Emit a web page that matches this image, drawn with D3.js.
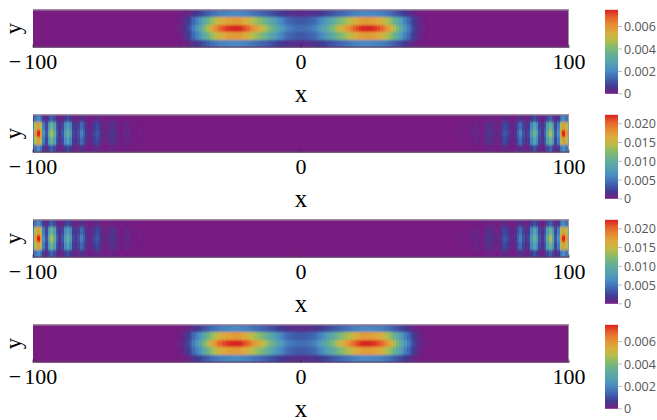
<!DOCTYPE html>
<html>
<head>
<meta charset="utf-8">
<script src="https://cdn.jsdelivr.net/npm/d3@7"></script>
<style>
  html, body { margin: 0; padding: 0; background: #fff; }
  svg { display: block; }
</style>
</head>
<body>
<svg id="chart" width="657" height="420"></svg>
<script>
// Grid nodes along x (unit spacing) and the five rows across y
const xNodes = d3.range(-100, 101);
const rowWeights = [0.27, 0.78, 1, 0.78, 0.27];

// Density along the centre row: two packets near x = ±25
const densityA = [
  0,0,0,0,0,0,0,0,0,0, 0,0,0,0,0,0,0,0,0,0, 0,0,0,0,0,0,0,0,0,0,
  0,0,0,0,0,0,0,0,0,0, 0,0,0,0,0,0,0,0,0,0, 0,0,0,
  .00004,.00009,.00019,.00034,.00056,.0009,.00135,.0018,.00233,.00285,
  .00338,.00398,.00458,.00518,.0057,.00615,.00653,.00683,.00705,.0072,
  .00735,.00743,.0075,.0075,.00743,.00728,.00705,.00683,.00653,.00615,
  .00585,.00555,.00525,.00495,.0045,.00413,.00375,.00338,.003,.0027,
  .0024,.0021,.00188,.00173,.00165,.00158,.0015,
  .0015,
  .0015,.00158,.00165,.00173,.00188,.0021,.0024,.0027,.003,.00338,
  .00375,.00413,.0045,.00495,.00525,.00555,.00585,.00615,.00653,.00683,
  .00705,.00728,.00743,.0075,.0075,.00743,.00735,.0072,.00705,.00683,
  .00653,.00615,.0057,.00518,.00458,.00398,.00338,.00285,.00233,.0018,
  .00135,.0009,.00056,.00034,.00019,.00009,.00004,
  0,0,0,0,0,0,0,0,0,0, 0,0,0,0,0,0,0,0,0,0, 0,0,0,0,0,0,0,0,0,0,
  0,0,0,0,0,0,0,0,0,0, 0,0,0,0,0,0,0,0,0,0, 0,0,0
];

// Density along the centre row: fringes piled up against both walls
const densityB = [
  .00672,.01792,.0224,.01792,.00672,.00336,.00941,.01389,.01008,.00403,
  .00179,.00336,.00784,.01075,.00739,.00269,.00112,.00314,.0056,.00403,
  .00157,.00067,.00134,.00269,.00336,.00224,.0009,.00045,.0009,.00157,
  .00179,.00112,.00045,.00022,.00056,.00078,.00056,.00022,.00011,.00022,
  .00027,.00018,.00007,
  0,0,0,0,0,0,0,0,0,0, 0,0,0,0,0,0,0,0,0,0, 0,0,0,0,0,0,0,0,0,0,
  0,0,0,0,0,0,0,0,0,0, 0,0,0,0,0,0,0,0,0,0, 0,0,0,0,0,0,0,0,0,0,
  0,0,0,0,0,0,0,0,0,0, 0,0,0,0,0,0,0,0,0,0, 0,0,0,0,0,0,0,0,0,0,
  0,0,0,0,0,0,0,0,0,0, 0,0,0,0,0,0,0,0,0,0, 0,0,0,0,0,
  .00007,.00018,.00027,
  .00022,.00011,.00022,.00056,.00078,.00056,.00022,.00045,.00112,.00179,
  .00157,.0009,.00045,.0009,.00224,.00336,.00269,.00134,.00067,.00157,
  .00403,.0056,.00314,.00112,.00269,.00739,.01075,.00784,.00336,.00179,
  .00403,.01008,.01389,.00941,.00336,.00672,.01792,.0224,.01792,.00672
];

const densityC = densityB;
const densityD = densityA;

const ticksA = [0, 0.002, 0.004, 0.006];
const ticksB = [0, 0.005, 0.010, 0.015, 0.020];
const xTicks = [-100, 0, 100];

// Rainbow colour stops, low to high
const rainbow = ["#781C81","#413B93","#4065B1","#488BC2","#55A1B1","#63AD99",
                 "#7FB972","#B5BD4C","#D9AD3C","#E68E34","#E6642C","#D92120"];

const panels = [
  { values: densityA, ticks: ticksA },
  { values: densityB, ticks: ticksB },
  { values: densityC, ticks: ticksB },
  { values: densityD, ticks: ticksA }
];

const svg = d3.select("#chart");
const defs = svg.append("defs");

const plotLeft = 33, plotRight = 569;
const pitch = 105, bandTop0 = 9.5, bandH = 38;
const barX = 605, barW = 13, barTop0 = 9.8, barH = 84;
const serif = "'Liberation Serif', 'Times New Roman', serif";
const sans = "'Open Sans', 'Liberation Sans', Arial, sans-serif";

const x = d3.scaleLinear().domain([-100, 100]).range([plotLeft, plotRight]);

// vertical gradient shared by every colour bar
const grad = defs.append("linearGradient")
  .attr("id", "rainbowGrad").attr("x1", 0).attr("y1", 1).attr("x2", 0).attr("y2", 0);
rainbow.forEach((c, i) => grad.append("stop")
  .attr("offset", i / (rainbow.length - 1)).attr("stop-color", c));

// slight softening of the cell edges
defs.append("filter").attr("id", "soft")
  .attr("x", "-2%").attr("y", "-10%").attr("width", "104%").attr("height", "120%")
  .append("feGaussianBlur").attr("stdDeviation", "0.55 0.9");

const fmtTick = v => v === 0 ? "0" : d3.format(".3f")(v);

panels.forEach((p, k) => {
  const top = bandTop0 + k * pitch;
  const bottom = top + bandH;
  const vmax = d3.max(p.values) * d3.max(rowWeights);

  const color = d3.scaleLinear()
    .domain(rainbow.map((_, i) => i / (rainbow.length - 1) * vmax))
    .range(rainbow)
    .clamp(true);

  const y = d3.scaleBand().domain(d3.range(rowWeights.length)).range([top, bottom]);

  const cells = [];
  rowWeights.forEach((w, r) => {
    xNodes.forEach((xv, i) => cells.push({ x: xv, row: r, v: p.values[i] * w }));
  });

  defs.append("clipPath").attr("id", "clip" + k)
    .append("rect").attr("x", plotLeft).attr("y", top)
    .attr("width", plotRight - plotLeft).attr("height", bandH);

  const heat = svg.append("g").attr("clip-path", `url(#clip${k})`);
  // backing layer so the softened edge stays in the low colour
  heat.append("rect").attr("x", plotLeft - 4).attr("y", top - 4)
    .attr("width", plotRight - plotLeft + 8).attr("height", bandH + 8)
    .attr("fill", color(0));
  heat.append("g").attr("filter", "url(#soft)")
    .selectAll("rect").data(cells).join("rect")
      .attr("shape-rendering", "crispEdges")
      .attr("x", d => x(Math.max(-100, d.x - 0.5)))
      .attr("y", d => y(d.row))
      .attr("width", d => x(Math.min(100, d.x + 0.5)) - x(Math.max(-100, d.x - 0.5)))
      .attr("height", y.bandwidth())
      .attr("fill", d => color(d.v));

  // frame lines
  const frame = svg.append("g").attr("fill", "none");
  frame.append("line").attr("x1", plotLeft).attr("x2", plotRight)
    .attr("y1", top + 0.5).attr("y2", top + 0.5).attr("stroke", "#9a9a9a");
  frame.append("line").attr("x1", plotRight - 0.5).attr("x2", plotRight - 0.5)
    .attr("y1", top).attr("y2", bottom).attr("stroke", "#9a9a9a");
  frame.append("line").attr("x1", plotLeft).attr("x2", plotRight)
    .attr("y1", bottom - 0.5).attr("y2", bottom - 0.5).attr("stroke", "#5a4a62");

  // inward tick marks
  frame.selectAll(".tk").data(xTicks).join("line")
    .attr("x1", d => x(d)).attr("x2", d => x(d))
    .attr("y1", bottom).attr("y2", bottom - 3)
    .attr("stroke", "#333").attr("stroke-width", 0.8);

  // x tick labels
  const tl = svg.append("g").attr("font-family", serif).attr("font-size", 22)
    .attr("fill", "#000").attr("text-anchor", "middle");
  xTicks.forEach(t => {
    const txt = tl.append("text").attr("x", x(t)).attr("y", bottom + 21);
    if (t < 0) {
      txt.append("tspan").text("\u2212");
      txt.append("tspan").attr("dx", 3).text(String(Math.abs(t)));
    } else {
      txt.text(String(t));
    }
  });

  // axis titles
  svg.append("text").attr("x", x(0)).attr("y", bottom + 54)
    .attr("text-anchor", "middle").attr("font-family", serif)
    .attr("font-size", 25).text("x");
  svg.append("text")
    .attr("transform", `translate(20.5,${(top + bottom) / 2}) rotate(-90)`)
    .attr("text-anchor", "middle").attr("font-family", serif)
    .attr("font-size", 22.5).text("y");

  // colour bar
  const bTop = barTop0 + k * pitch;
  const cb = d3.scaleLinear().domain([0, vmax]).range([bTop + barH, bTop]);
  svg.append("rect").attr("x", barX).attr("y", bTop)
    .attr("width", barW).attr("height", barH).attr("fill", "url(#rainbowGrad)");
  const cg = svg.append("g");
  cg.selectAll("line").data(p.ticks).join("line")
    .attr("x1", barX + barW).attr("x2", barX + barW + 4)
    .attr("y1", d => cb(d)).attr("y2", d => cb(d))
    .attr("stroke", "#bbb").attr("stroke-width", 1);
  cg.selectAll("text").data(p.ticks).join("text")
    .attr("x", barX + barW + 6).attr("y", d => cb(d)).attr("dy", "0.36em")
    .attr("font-family", sans).attr("font-size", 12.5).attr("fill", "#555")
    .text(fmtTick);
});
</script>
</body>
</html>
